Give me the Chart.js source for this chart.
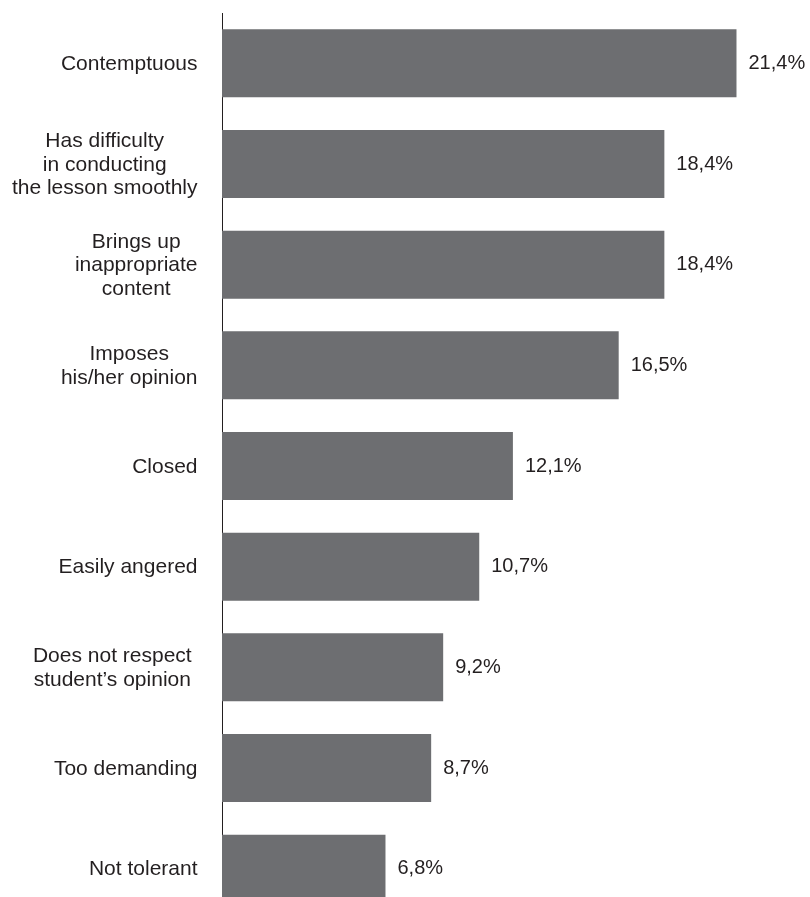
<!DOCTYPE html>
<html>
<head>
<meta charset="utf-8">
<script src="https://cdn.jsdelivr.net/npm/chart.js@4"></script>
<style>
    html, body { margin: 0; padding: 0; background: #fff; overflow: hidden; }
    #wrap { position: relative; width: 810px; height: 920px; }
</style>
</head>
<body>
<div id="wrap"><canvas id="myChart"></canvas></div>
<script>
// categories, one array of lines per bar
const categories = [
    ['Contemptuous'],
    ['Has difficulty', 'in conducting', 'the lesson smoothly'],
    ['Brings up', 'inappropriate', 'content'],
    ['Imposes', 'his/her opinion'],
    ['Closed'],
    ['Easily angered'],
    ['Does not respect ', 'student\u2019s opinion '],
    ['Too demanding'],
    ['Not tolerant']
];
const values = [21.4, 18.4, 18.4, 16.5, 12.1, 10.7, 9.2, 8.7, 6.8];
const valueLabels = ['21,4%', '18,4%', '18,4%', '16,5%', '12,1%', '10,7%', '9,2%', '8,7%', '6,8%'];

const textColor = '#231f20';
const catFont = '21px "Liberation Sans", Arial, sans-serif';
const valFont = '20px "Liberation Sans", Arial, sans-serif';

// draws the category labels (right aligned block, centered lines) and value labels
const labelPlugin = {
    id: 'labelPlugin',
    afterDraw(chart) {
        const ctx = chart.ctx;
        const yScale = chart.scales.y;
        const bars = chart.getDatasetMeta(0).data;
        const lineHeight = 23.5;
        ctx.save();
        ctx.fillStyle = textColor;
        ctx.textBaseline = 'middle';

        ctx.font = catFont;
        categories.forEach((lines, i) => {
            const y = yScale.getPixelForValue(i) + 1;
            const widest = Math.max(...lines.map(l => ctx.measureText(l).width));
            const cx = 197.5 - widest / 2;
            ctx.textAlign = 'center';
            lines.forEach((line, j) => {
                ctx.fillText(line, cx, y + (j - (lines.length - 1) / 2) * lineHeight);
            });
        });

        ctx.font = valFont;
        ctx.textAlign = 'left';
        bars.forEach((bar, i) => {
            ctx.fillText(valueLabels[i], bar.x + 12, bar.y);
        });
        ctx.restore();
    }
};

const ctx1 = document.getElementById('myChart').getContext('2d');
new Chart(ctx1, {
    type: 'bar',
    data: {
        labels: categories,
        datasets: [{
            data: values,
            backgroundColor: '#6d6e71',
            barPercentage: 0.675,
            categoryPercentage: 1
        }]
    },
    options: {
        indexAxis: 'y',
        responsive: true,
        maintainAspectRatio: false,
        animation: false,
        layout: { padding: { top: 13, bottom: 1, left: 0, right: 11 } },
        plugins: {
            legend: { display: false },
            tooltip: { enabled: false }
        },
        scales: {
            x: {
                display: false,
                min: 0,
                max: 24
            },
            y: {
                grid: { display: false },
                ticks: { display: false },
                border: { display: true, color: textColor, width: 1 },
                afterFit(scale) { scale.width = 222; }
            }
        }
    },
    plugins: [labelPlugin]
});
</script>
</body>
</html>
